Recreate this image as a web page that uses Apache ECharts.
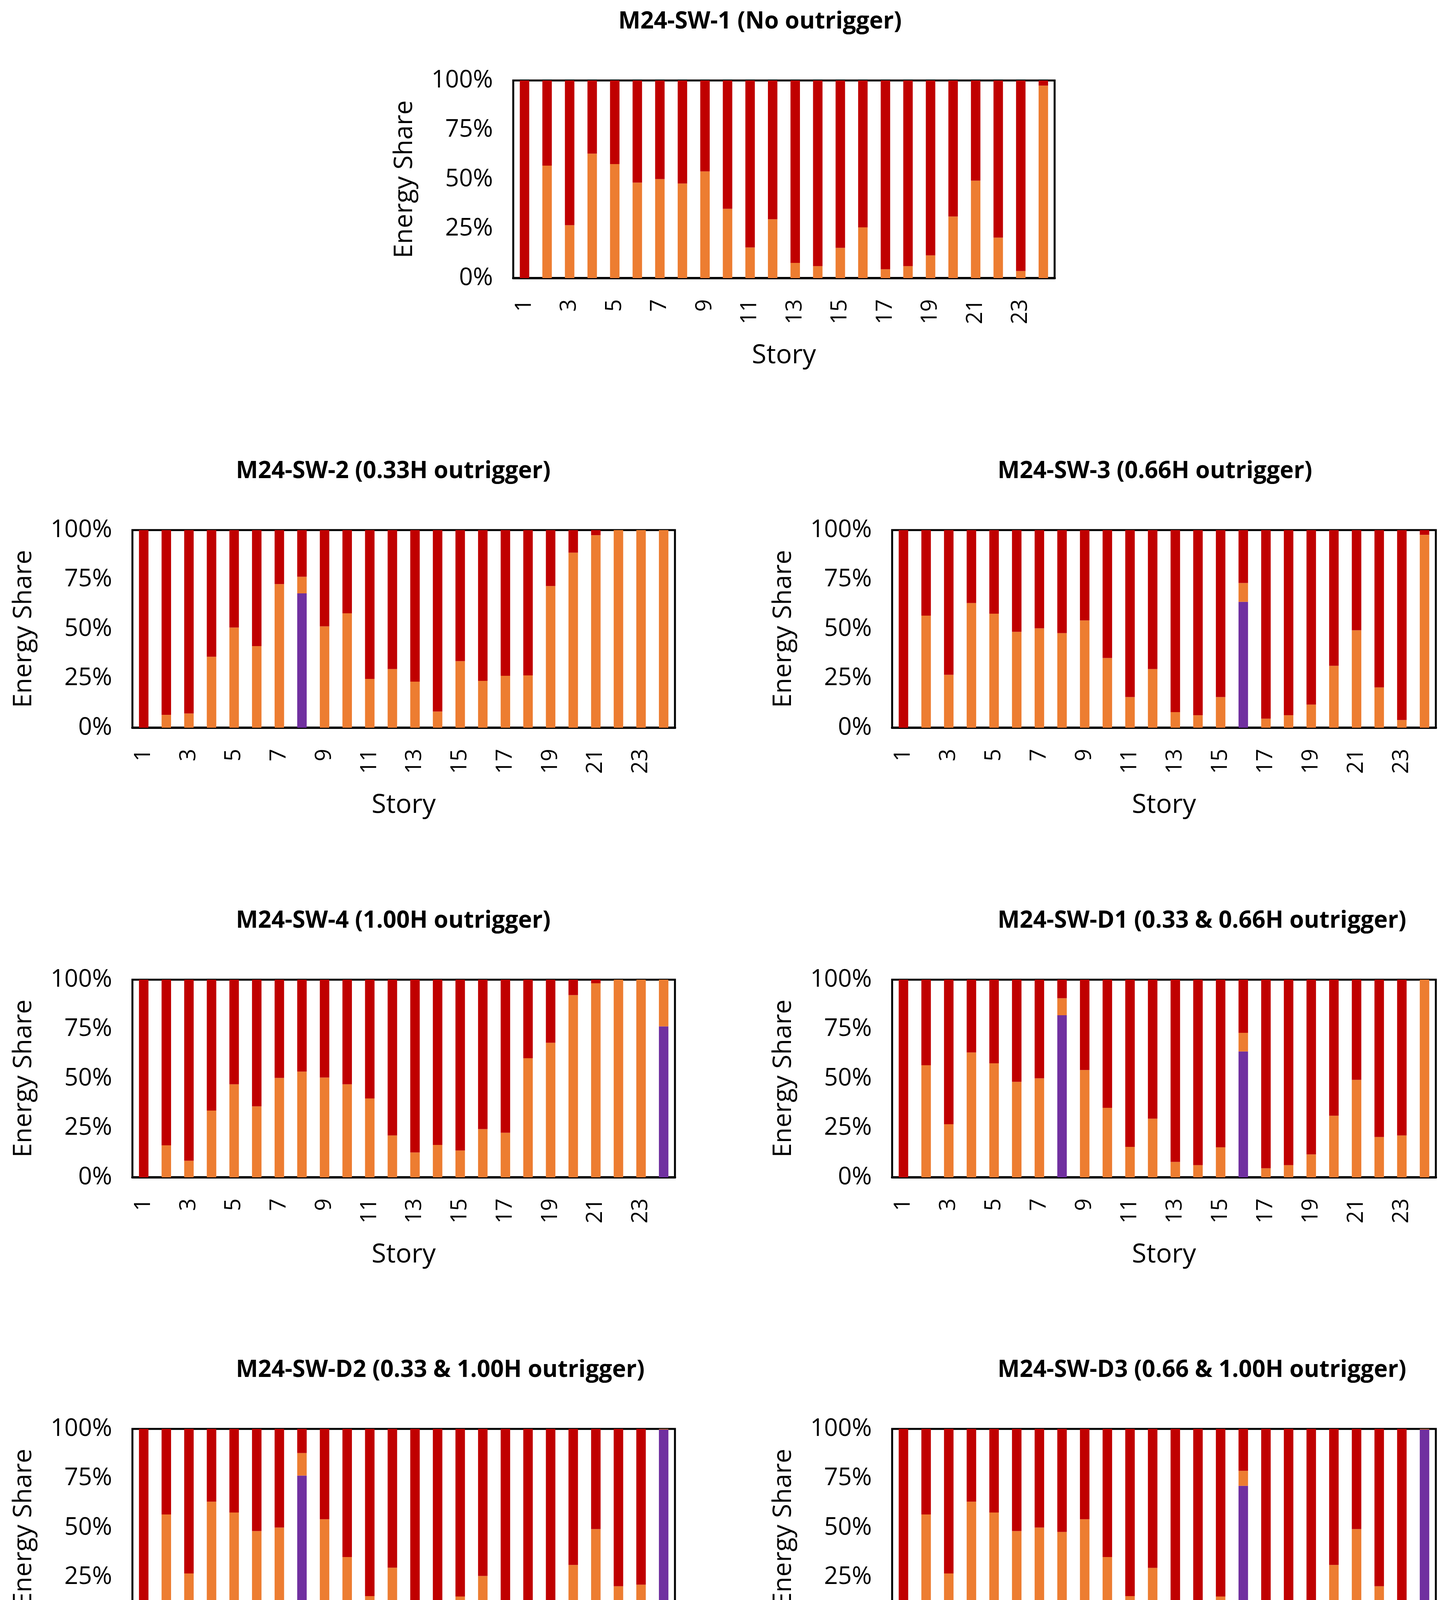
<!DOCTYPE html>
<html><head><meta charset="utf-8">
<script src="https://cdn.jsdelivr.net/npm/echarts@6/dist/echarts.min.js"></script>
<style>html,body{margin:0;padding:0;background:#fff}#c{width:3702px;height:4731px}</style>
</head><body><div id="c"></div>
<script>
const stories = ['1','2','3','4','5','6','7','8','9','10','11','12','13','14','15','16','17','18','19','20','21','22','23','24'];
const seriesNames = ['BRB','RC BEAM','RC WALL'];
const seriesColors = ['#7030A0','#ED7D31','#C00000'];
const titles = [
  'M24-SW-1 (No outrigger)',
  'M24-SW-2 (0.33H outrigger)',
  'M24-SW-3 (0.66H outrigger)',
  'M24-SW-4 (1.00H outrigger)',
  'M24-SW-D1 (0.33 & 0.66H outrigger)',
  'M24-SW-D2 (0.33 & 1.00H outrigger)',
  'M24-SW-D3 (0.66 & 1.00H outrigger)'
];

// M24-SW-1
const sw1_brb  = [0,0,0,0,0,0,0,0,0,0,0,0,0,0,0,0,0,0,0,0,0,0,0,0];
const sw1_beam = [0,56.9,26.8,63.0,57.7,48.3,50.1,47.9,54.0,35.1,15.5,29.8,7.7,6.1,15.3,25.7,4.5,6.1,11.5,31.2,49.3,20.5,3.6,97.4];
const sw1_wall = [100,43.1,73.2,37.0,42.3,51.7,49.9,52.1,46.0,64.9,84.5,70.2,92.3,93.9,84.7,74.3,95.5,93.9,88.5,68.8,50.7,79.5,96.4,2.6];
// M24-SW-2
const sw2_brb  = [0,0,0,0,0,0,0,68.0,0,0,0,0,0,0,0,0,0,0,0,0,0,0,0,0];
const sw2_beam = [0,6.5,7.2,35.9,50.7,41.3,72.7,8.4,51.3,57.9,24.7,29.7,23.3,8.2,33.7,23.7,26.3,26.5,71.7,88.6,97.4,100,100,100];
const sw2_wall = [100,93.5,92.8,64.1,49.3,58.7,27.3,23.6,48.7,42.1,75.3,70.3,76.7,91.8,66.3,76.3,73.7,73.5,28.3,11.4,2.6,0,0,0];
// M24-SW-3
const sw3_brb  = [0,0,0,0,0,0,0,0,0,0,0,0,0,0,0,63.7,0,0,0,0,0,0,0,0];
const sw3_beam = [0,56.7,26.8,63.1,57.7,48.5,50.3,47.9,54.3,35.3,15.5,29.7,7.9,6.3,15.5,9.5,4.6,6.3,11.7,31.3,49.3,20.4,3.9,97.6];
const sw3_wall = [100,43.3,73.2,36.9,42.3,51.5,49.7,52.1,45.7,64.7,84.5,70.3,92.1,93.7,84.5,26.8,95.4,93.7,88.3,68.7,50.7,79.6,96.1,2.4];
// M24-SW-4
const sw4_brb  = [0,0,0,0,0,0,0,0,0,0,0,0,0,0,0,0,0,0,0,0,0,0,0,76.4];
const sw4_beam = [0,16.2,8.4,33.8,47.1,35.9,50.3,53.5,50.5,47.1,39.9,21.2,12.6,16.4,13.6,24.4,22.6,60.3,68.1,92.2,98.2,100,100,23.6];
const sw4_wall = [100,83.8,91.6,66.2,52.9,64.1,49.7,46.5,49.5,52.9,60.1,78.8,87.4,83.6,86.4,75.6,77.4,39.7,31.9,7.8,1.8,0,0,0];
// M24-SW-D1
const d1_brb  = [0,0,0,0,0,0,0,82.0,0,0,0,0,0,0,0,63.7,0,0,0,0,0,0,0,0];
const d1_beam = [0,56.7,26.9,63.2,57.7,48.3,50.1,8.6,54.3,35.2,15.4,29.7,7.8,6.2,15.2,9.4,4.6,6.2,11.6,31.2,49.3,20.4,21.2,100];
const d1_wall = [100,43.3,73.1,36.8,42.3,51.7,49.9,9.4,45.7,64.8,84.6,70.3,92.2,93.8,84.8,26.9,95.4,93.8,88.4,68.8,50.7,79.6,78.8,0];
// M24-SW-D2
const d2_brb  = [0,0,0,0,0,0,0,76.4,0,0,0,0,0,0,0,0,0,0,0,0,0,0,0,99.7];
const d2_beam = [0,56.7,26.9,63.2,57.7,48.3,50.1,11.4,54.3,35.2,15.4,29.8,7.8,6.2,15.2,25.6,4.6,6.2,11.6,31.2,49.3,20.4,21.2,0.3];
const d2_wall = [100,43.3,73.1,36.8,42.3,51.7,49.9,12.2,45.7,64.8,84.6,70.2,92.2,93.8,84.8,74.4,95.4,93.8,88.4,68.8,50.7,79.6,78.8,0];
// M24-SW-D3
const d3_brb  = [0,0,0,0,0,0,0,0,0,0,0,0,0,0,0,71.2,0,0,0,0,0,0,0,99.7];
const d3_beam = [0,56.7,26.9,63.2,57.7,48.3,50.1,47.9,54.3,35.2,15.4,29.7,7.8,6.2,15.2,7.6,4.6,6.2,11.6,31.2,49.3,20.4,0,0.3];
const d3_wall = [100,43.3,73.1,36.8,42.3,51.7,49.9,52.1,45.7,64.8,84.6,70.3,92.2,93.8,84.8,21.2,95.4,93.8,88.4,68.8,50.7,79.6,100,0];

const panelData = [
  [sw1_brb, sw1_beam, sw1_wall],
  [sw2_brb, sw2_beam, sw2_wall],
  [sw3_brb, sw3_beam, sw3_wall],
  [sw4_brb, sw4_beam, sw4_wall],
  [d1_brb, d1_beam, d1_wall],
  [d2_brb, d2_beam, d2_wall],
  [d3_brb, d3_beam, d3_wall]
];

// layout (pixels)
const layout = [
  {left:1314, top:206,  width:1386, titleLeft:1583},
  {left:339,  top:1357, width:1389, titleLeft:604},
  {left:2284, top:1357, width:1392, titleLeft:2554},
  {left:339,  top:2508, width:1389, titleLeft:604},
  {left:2284, top:2508, width:1392, titleLeft:2554},
  {left:339,  top:3658, width:1389, titleLeft:604},
  {left:2284, top:3658, width:1392, titleLeft:2554}
];
const plotH = 506;
const FONT = 'Open Sans';

const chart = echarts.init(document.getElementById('c'), null, {renderer:'canvas'});
const grid = [], xAxis = [], yAxis = [], series = [], title = [];
layout.forEach((L, i) => {
  grid.push({left:L.left, top:L.top, width:L.width, height:plotH, show:true,
    borderColor:'#000', borderWidth:5, backgroundColor:'transparent', containLabel:false});
  title.push({text:titles[i], left:L.titleLeft, top:L.top - 180, padding:0,
    textStyle:{fontFamily:FONT, fontWeight:'bold', fontSize:60, color:'#000'}});
  xAxis.push({type:'category', gridIndex:i, data:stories, boundaryGap:true,
    axisLine:{show:true, lineStyle:{color:'#000', width:6}},
    axisTick:{show:false},
    axisLabel:{interval:1, rotate:90, margin:54, fontFamily:FONT, fontSize:56, color:'#000'},
    name:'Story', nameLocation:'middle', nameGap:165,
    nameTextStyle:{fontFamily:FONT, fontSize:68, color:'#000'}});
  yAxis.push({type:'value', gridIndex:i, min:0, max:100, interval:25,
    axisLine:{show:false}, axisTick:{show:false}, splitLine:{show:false},
    axisLabel:{formatter:'{value}%', margin:52, fontFamily:FONT, fontSize:62, color:'#000'},
    name:'Energy Share', nameLocation:'middle', nameGap:245,
    nameTextStyle:{fontFamily:FONT, fontSize:66, color:'#000'}});
  seriesNames.forEach((nm, k) => {
    series.push({type:'bar', name:nm, xAxisIndex:i, yAxisIndex:i, stack:'s'+i,
      barWidth:'42%', data:panelData[i][k], itemStyle:{color:seriesColors[k]},
      animation:false, silent:true});
  });
});

chart.setOption({
  backgroundColor:'#fff',
  animation:false,
  title: title,
  grid: grid,
  xAxis: xAxis,
  yAxis: yAxis,
  series: series,
  legend: {data:seriesNames, left:1296, top:4639, orient:'horizontal',
    icon:'rect', itemWidth:52, itemHeight:50, itemGap:79,
    textStyle:{fontFamily:FONT, fontSize:68, color:'#000', padding:[0,0,0,18]}}
});
</script>
</body></html>
